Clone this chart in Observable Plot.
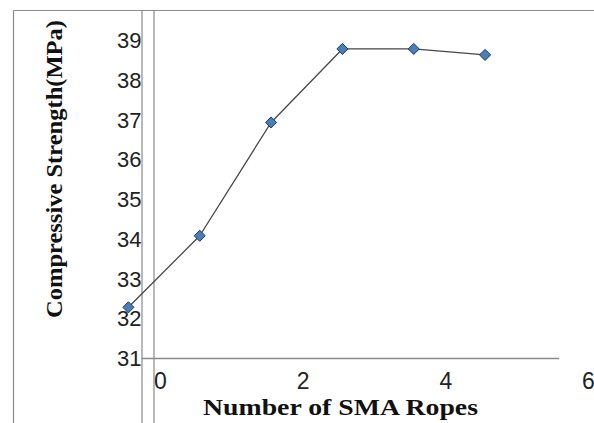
<!DOCTYPE html>
<html>
<head>
<meta charset="utf-8">
<script src="https://cdn.jsdelivr.net/npm/d3@7"></script>
<script src="https://cdn.jsdelivr.net/npm/@observablehq/plot@0.6"></script>
<style>
  html, body { margin: 0; padding: 0; background: #fff; }
  svg { display: block; }
</style>
</head>
<body>
<div id="chart"></div>
<script>
// Data
const ropes = [-0.45, 0.55, 1.55, 2.55, 3.55, 4.55];
const strength = [32.3, 34.1, 36.95, 38.8, 38.8, 38.65];
const xTicks = [0, 2, 4, 6];
const yTicks = [31, 32, 33, 34, 35, 36, 37, 38, 39];
const xTitle = "Number of SMA Ropes";
const yTitle = "Compressive Strength(MPa)";

const data = ropes.map((x, i) => ({x, y: strength[i]}));

const W = 594, H = 423;
const chart = Plot.plot({
  width: W,
  height: H,
  marginLeft: 142,
  marginRight: 36,
  marginTop: 10,
  marginBottom: 65,
  x: {domain: [0, 6], range: [160, 588], label: null},
  y: {domain: [31, 39], range: [358.5, 40.5], label: null},
  style: {background: "#fff", color: "#222"},
  marks: [
    Plot.frame({anchor: "bottom", stroke: "#8a8a8a", strokeWidth: 1.5}),
    Plot.axisY({ticks: yTicks, label: null, tickSize: 0, tickPadding: 1, fontSize: 22, fontFamily: "Liberation Sans, Arial, sans-serif", fill: "#222", tickFormat: d => String(d)}),
    Plot.axisX({ticks: xTicks, label: null, tickSize: 0, tickPadding: 14, fontSize: 23, fontFamily: "Liberation Sans, Arial, sans-serif", fill: "#222", tickFormat: d => String(d)}),
    Plot.line(data, {x: "x", y: "y", stroke: "#474747", strokeWidth: 1.3}),
    Plot.dot(data, {x: "x", y: "y", symbol: "diamond2", r: 5, fill: "#4a7ebb", stroke: "#1f3a60", strokeWidth: 1})
  ]
});

document.getElementById("chart").appendChild(chart);

// decorative border / axis lines and titles
const svg = d3.select(chart);
const g = svg.insert("g", ":first-child").attr("stroke", "#8a8a8a").attr("stroke-width", 1.2);
g.append("line").attr("x1", 13.5).attr("x2", W).attr("y1", 10.5).attr("y2", 10.5);
g.append("line").attr("x1", 13.5).attr("x2", 13.5).attr("y1", 10.5).attr("y2", H);
g.append("line").attr("x1", 142).attr("x2", 142).attr("y1", 10.5).attr("y2", H);
g.append("line").attr("x1", 154).attr("x2", 154).attr("y1", 10.5).attr("y2", H);

svg.append("text")
  .attr("x", 340.5).attr("y", 415)
  .attr("text-anchor", "middle")
  .attr("font-family", "Liberation Serif, 'Times New Roman', serif")
  .attr("font-weight", "bold")
  .attr("font-size", 24)
  .attr("textLength", 275)
  .attr("lengthAdjust", "spacingAndGlyphs")
  .attr("fill", "#111")
  .text(xTitle);

svg.append("text")
  .attr("transform", "translate(62,169) rotate(-90)")
  .attr("text-anchor", "middle")
  .attr("font-family", "Liberation Serif, 'Times New Roman', serif")
  .attr("font-weight", "bold")
  .attr("font-size", 24)
  .attr("textLength", 298)
  .attr("lengthAdjust", "spacingAndGlyphs")
  .attr("fill", "#111")
  .text(yTitle);
</script>
</body>
</html>
